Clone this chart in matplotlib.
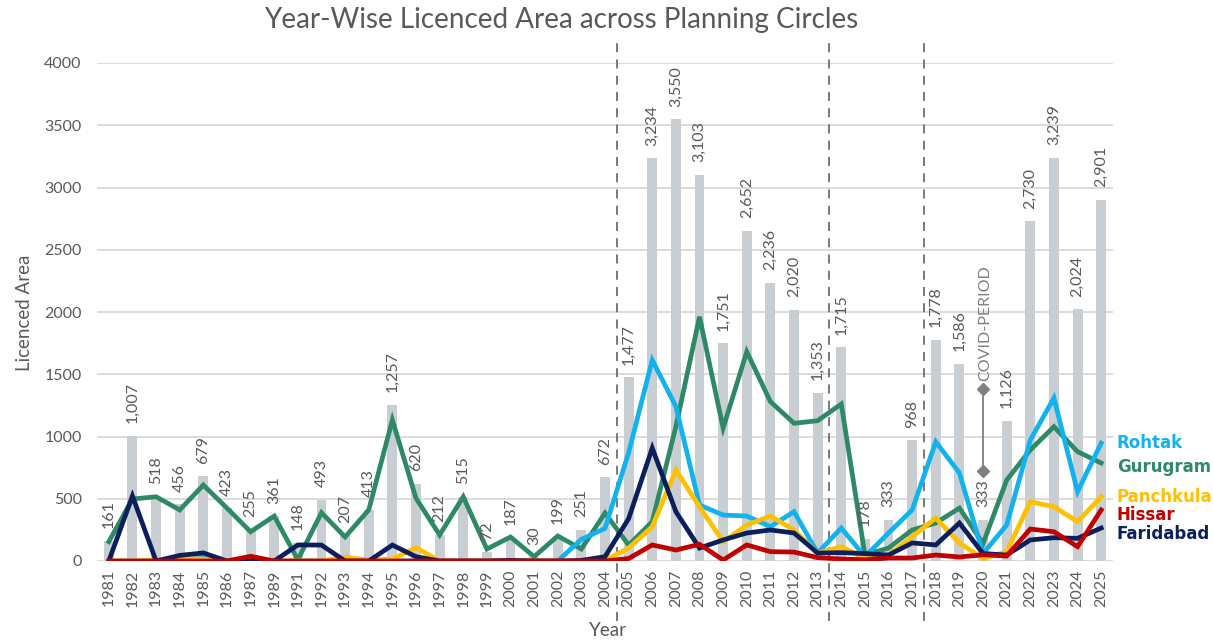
import matplotlib
matplotlib.use("Agg")
import matplotlib.pyplot as plt
import numpy as np

years = ['1981', '1982', '1983', '1984', '1985', '1986', '1987', '1989', '1991',
         '1992', '1993', '1994', '1995', '1996', '1997', '1998', '1999', '2000',
         '2001', '2002', '2003', '2004', '2005', '2006', '2007', '2008', '2009',
         '2010', '2011', '2012', '2013', '2014', '2015', '2016', '2017', '2018',
         '2019', '2020', '2021', '2022', '2023', '2024', '2025']

totals = [161, 1007, 518, 456, 679, 423, 255, 361, 148, 493, 207, 413, 1257,
          620, 212, 515, 72, 187, 30, 199, 251, 672, 1477, 3234, 3550, 3103,
          1751, 2652, 2236, 2020, 1353, 1715, 178, 333, 968, 1778, 1586, 333,
          1126, 2730, 3239, 2024, 2901]

gurugram = [155, 498, 516, 410, 610, 425, 235, 361, 10, 388, 193, 410, 1133,
            505, 209, 516, 96, 193, 35, 201, 96, 385,
            128, 316, 1080, 1962, 1068, 1681, 1280, 1106, 1127, 1261,
            50, 104, 249, 305, 425, 140, 650, 892, 1079, 878, 787]
rohtak = [0, 0, 0, 20, 50, 0, 10, 0, 0, 0, 0, 0, 0,
          0, 0, 0, 0, 0, 0, 0, 174, 262,
          870, 1614, 1240, 450, 369, 361, 276, 396, 64, 265,
          35, 225, 410, 958, 707, 60, 289, 972, 1309, 557, 947]
panchkula = [0, 0, 5, 25, 15, 0, 0, 0, 0, 0, 30, 8, 15,
             107, 0, 0, 0, 0, 0, 0, 0, 5,
             104, 276, 731, 436, 155, 289, 361, 249, 64, 115,
             20, 48, 195, 345, 145, 20, 75, 476, 436, 316, 516]
hissar = [0, 0, 0, 0, 0, 0, 38, 0, 0, 0, 0, 0, 0,
          0, 0, 0, 0, 0, 0, 0, 0, 0,
          20, 129, 88, 134, 8, 129, 75, 72, 27, 16,
          10, 24, 24, 48, 32, 50, 40, 257, 235, 115, 410]
faridabad = [0, 522, 0, 45, 65, 0, 0, 0, 129, 128, 0, 0, 128,
             35, 0, 0, 0, 5, 0, 0, 5, 35,
             340, 907, 396, 104, 169, 225, 249, 225, 64, 67,
             60, 48, 145, 129, 305, 60, 48, 169, 187, 182, 265]

series_names = ['Gurugram', 'Rohtak', 'Panchkula', 'Faridabad', 'Hissar']
series_values = [gurugram, rohtak, panchkula, faridabad, hissar]
series_colors = ['#2E8A66', '#12B2EE', '#FFC000', '#0A1F5C', '#C00000']

divider_after = ['2004', '2013', '2017']
covid_year = '2020'
covid_range = [725, 1379]

plt.rcParams['font.family'] = ['Lato', 'DejaVu Sans']
grey_txt = '#595959'

W, H = 1213, 642
fig = plt.figure(figsize=(W / 100, H / 100), dpi=100)
ax = fig.add_axes([97 / W, 1 - 561 / H, (1113 - 97) / W, (561 - 63) / H])

x = np.arange(len(years))
ax.bar(x, totals, width=0.42, color='#C8CED2', zorder=2)

for xi, v in zip(x, totals):
    ax.annotate(f"{v:,}", (xi, v), xytext=(0, 9), textcoords='offset points',
                rotation=90, ha='center', va='bottom', fontsize=11.5,
                color=grey_txt, zorder=5)

for name, vals, col in zip(series_names, series_values, series_colors):
    ax.plot(x, vals, color=col, lw=3.4, solid_joinstyle='miter', zorder=4)

ax.set_xlim(-0.5, len(years) - 0.5)
ax.set_ylim(0, 4000)
ax.set_yticks(range(0, 4001, 500))
ax.set_xticks(x)
ax.set_xticklabels(years, rotation=90, fontsize=11.5, color=grey_txt)
ax.tick_params(axis='y', labelsize=11.5, colors=grey_txt, length=0, pad=11)
ax.tick_params(axis='x', length=0, pad=6)
ax.grid(axis='y', color='#D9D9D9', lw=1.3, zorder=0)
for s in ax.spines.values():
    s.set_visible(False)
ax.axhline(0, color='#D9D9D9', lw=1.3, zorder=1)

for yr in divider_after:
    xd = years.index(yr) + 0.5
    ax.axvline(xd, ymin=-0.12, ymax=1.04, color='#6E6E6E', lw=1.3,
               ls=(0, (5, 4)), clip_on=False, zorder=3)

xc = years.index(covid_year)
ax.plot([xc, xc], covid_range, color='#7F7F7F', lw=1.3, marker='D',
        markersize=6, zorder=6)
ax.text(xc + 0.08, covid_range[1] + 70, 'COVID-PERIOD', rotation=90,
        ha='center', va='bottom', fontsize=11.5, color='#7F7F7F', zorder=6)

fig.text(561 / W, 1 - 20 / H, 'Year-Wise Licenced Area across Planning Circles',
         ha='center', va='center', fontsize=20, color=grey_txt)
fig.text(25 / W, 1 - 313 / H, 'Licenced Area', rotation=90, ha='center',
         va='center', fontsize=13.5, color=grey_txt)
fig.text(608 / W, 1 - 631 / H, 'Year', ha='center', va='center',
         fontsize=13.5, color=grey_txt)

legend_items = [('Rohtak', '#12B2EE', 443), ('Gurugram', '#2E8A66', 467),
                ('Panchkula', '#FFC000', 497), ('Hissar', '#C00000', 515),
                ('Faridabad', '#0A1F5C', 534)]
for lab, col, yp in legend_items:
    fig.text(1117 / W, 1 - yp / H, lab, ha='left', va='center', fontsize=12,
             fontweight='bold', color=col, family=['DejaVu Sans'])

fig.savefig('out.png', dpi=100)
